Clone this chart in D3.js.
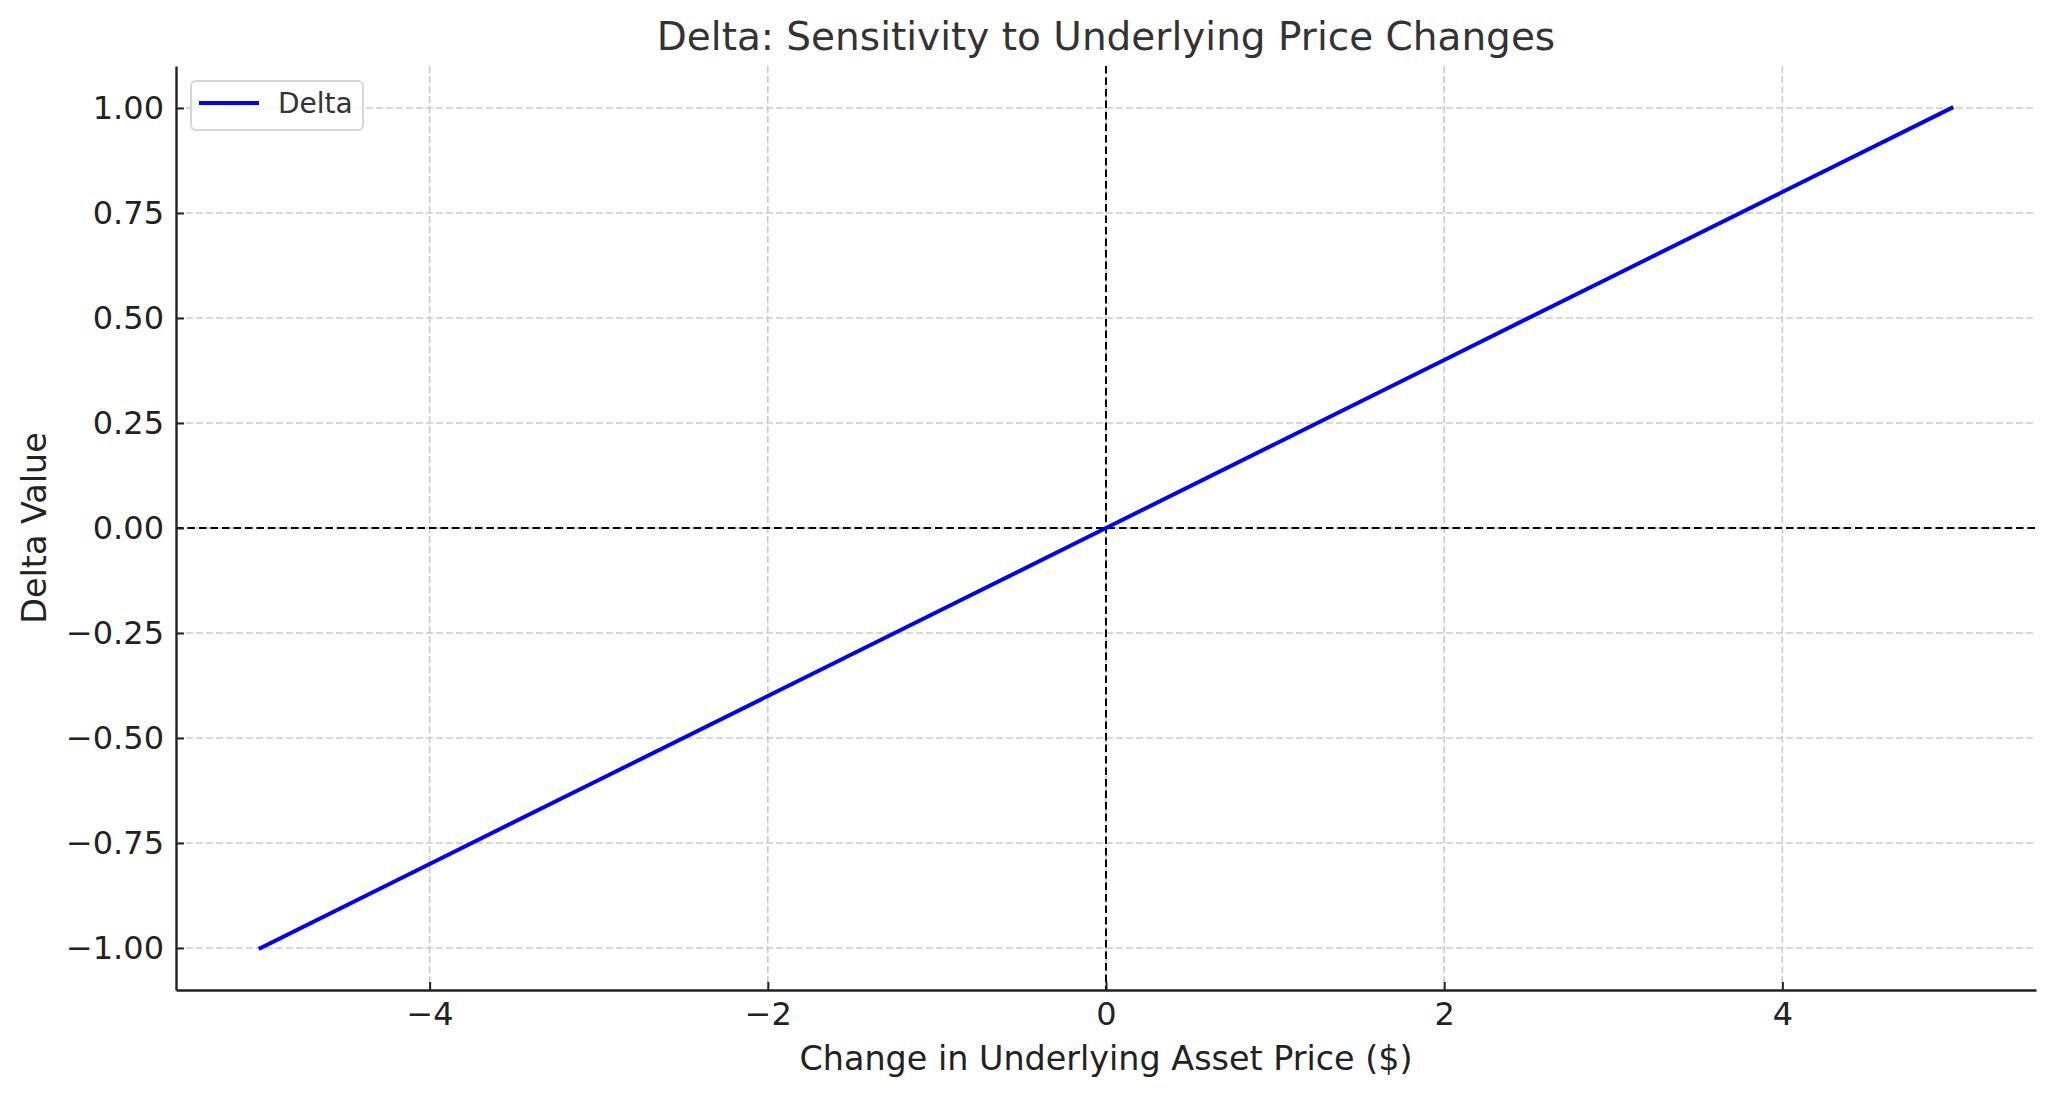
<!DOCTYPE html>
<html>
<head>
<meta charset="utf-8">
<script src="https://cdn.jsdelivr.net/npm/d3@7"></script>
<style>
    body { margin: 0; background: #fff; }
    text { font-family: "DejaVu Sans", sans-serif; }
</style>
</head>
<body>
<div id="chart"></div>
<script>
// Price change ($) and the matching delta values
const priceChange = [-5, -4, -3, -2, -1, 0, 1, 2, 3, 4, 5];
const deltaValues = [-1.0, -0.8, -0.6, -0.4, -0.2, 0.0, 0.2, 0.4, 0.6, 0.8, 1.0];

const xTicks = [-4, -2, 0, 2, 4];
const yTicks = [-1.0, -0.75, -0.5, -0.25, 0, 0.25, 0.5, 0.75, 1.0];

const chartTitle = 'Delta: Sensitivity to Underlying Price Changes';
const xLabel = 'Change in Underlying Asset Price ($)';
const yLabel = 'Delta Value';
const seriesName = 'Delta';

const data = priceChange.map((x, i) => ({x, y: deltaValues[i]}));

const fullWidth = 2056, fullHeight = 1097;
const margin = {top: 66, right: 20, bottom: 107, left: 176};
const width = fullWidth - margin.left - margin.right;
const height = fullHeight - margin.top - margin.bottom;

const svg = d3.select('#chart')
    .append('svg')
    .attr('width', fullWidth)
    .attr('height', fullHeight)
    .append('g')
    .attr('transform', `translate(${margin.left},${margin.top})`);

const x = d3.scaleLinear()
    .domain([-5.5, 5.5])
    .range([0, width]);

const y = d3.scaleLinear()
    .domain([-1.1, 1.1])
    .range([height, 0]);

// Grid lines
svg.append('g')
    .selectAll('line')
    .data(xTicks)
    .enter()
    .append('line')
    .attr('x1', d => x(d)).attr('x2', d => x(d))
    .attr('y1', 0).attr('y2', height)
    .attr('stroke', '#cbcbcb')
    .attr('stroke-width', 1.6)
    .attr('stroke-dasharray', '7,3');

svg.append('g')
    .selectAll('line')
    .data(yTicks)
    .enter()
    .append('line')
    .attr('x1', 0).attr('x2', width)
    .attr('y1', d => y(d)).attr('y2', d => y(d))
    .attr('stroke', '#cbcbcb')
    .attr('stroke-width', 1.6)
    .attr('stroke-dasharray', '7,3');

// Zero reference lines
svg.append('line')
    .attr('x1', 0).attr('x2', width)
    .attr('y1', y(0)).attr('y2', y(0))
    .attr('stroke', '#000')
    .attr('stroke-width', 2)
    .attr('stroke-dasharray', '7.5,4');

svg.append('line')
    .attr('x1', x(0)).attr('x2', x(0))
    .attr('y1', 0).attr('y2', height)
    .attr('stroke', '#000')
    .attr('stroke-width', 2)
    .attr('stroke-dasharray', '7.5,4');

// Delta line
const line = d3.line()
    .x(d => x(d.x))
    .y(d => y(d.y));

svg.append('path')
    .datum(data)
    .attr('fill', 'none')
    .attr('stroke', '#0000ff')
    .attr('stroke-width', 4)
    .attr('stroke-linecap', 'square')
    .attr('d', line);

// Axes
const xAxis = svg.append('g')
    .attr('transform', `translate(0,${height})`)
    .call(d3.axisBottom(x).tickValues(xTicks).tickSizeInner(-8).tickSizeOuter(0).tickPadding(12));

const yAxis = svg.append('g')
    .call(d3.axisLeft(y).tickValues(yTicks).tickFormat(d3.format('.2f')).tickSizeInner(-8).tickSizeOuter(0).tickPadding(12));

[xAxis, yAxis].forEach(ax => {
    ax.select('.domain').attr('stroke', '#222').attr('stroke-width', 2.4);
    ax.selectAll('.tick line').attr('stroke', '#222').attr('stroke-width', 2);
    ax.selectAll('.tick text')
        .attr('fill', '#222')
        .style('font-size', '32px');
});

// Title and labels
svg.append('text')
    .attr('x', width / 2)
    .attr('y', -16)
    .attr('text-anchor', 'middle')
    .attr('fill', '#333')
    .style('font-size', '39px')
    .text(chartTitle);

svg.append('text')
    .attr('x', width / 2)
    .attr('y', height + 80)
    .attr('text-anchor', 'middle')
    .attr('fill', '#222')
    .style('font-size', '33.4px')
    .text(xLabel);

svg.append('text')
    .attr('transform', `translate(${-margin.left + 46},${height / 2}) rotate(-90)`)
    .attr('text-anchor', 'middle')
    .attr('fill', '#222')
    .style('font-size', '33.4px')
    .text(yLabel);

// Legend
const legend = svg.append('g')
    .attr('transform', 'translate(15,15)');

legend.append('rect')
    .attr('width', 172)
    .attr('height', 49)
    .attr('rx', 5)
    .attr('fill', '#fff')
    .attr('fill-opacity', 0.8)
    .attr('stroke', '#d6d6d6')
    .attr('stroke-width', 2);

legend.append('line')
    .attr('x1', 8).attr('x2', 68)
    .attr('y1', 22).attr('y2', 22)
    .attr('stroke', '#0000ff')
    .attr('stroke-width', 4);

legend.append('text')
    .attr('x', 87)
    .attr('y', 32)
    .attr('fill', '#333')
    .style('font-size', '28px')
    .text(seriesName);
</script>
</body>
</html>
